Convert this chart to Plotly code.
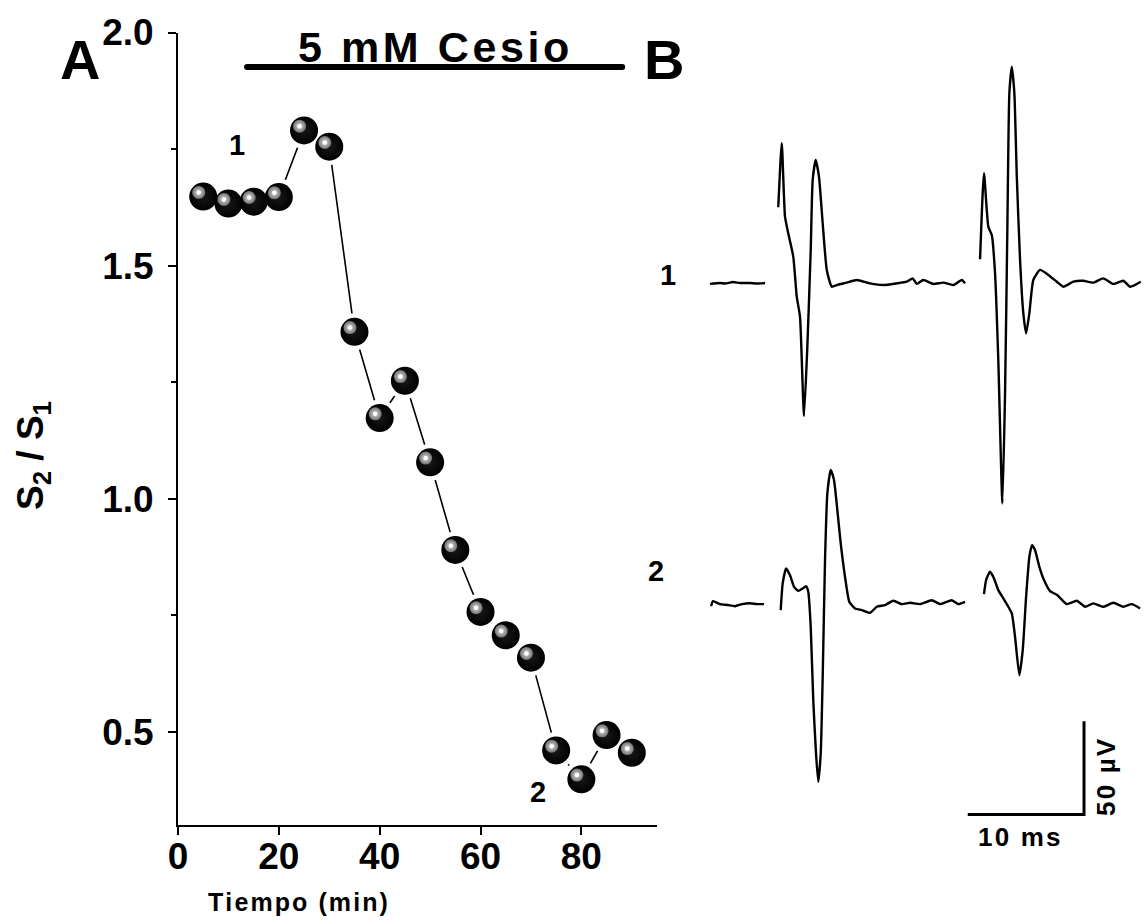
import plotly.graph_objects as go

# ---------------- Panel A data ----------------
time_min = [5, 10, 15, 20, 25, 30, 35, 40, 45, 50, 55, 60, 65, 70, 75, 80, 85, 90]
ratio_s2_s1 = [1.648, 1.633, 1.637, 1.647, 1.790, 1.755, 1.358, 1.173, 1.253,
               1.078, 0.890, 0.757, 0.707, 0.659, 0.460, 0.398, 0.493, 0.455]
x_tick_vals = [0, 20, 40, 60, 80]
y_tick_vals = [0.5, 1.0, 1.5, 2.0]
y_tick_text = ["0.5", "1.0", "1.5", "2.0"]
cesio_period = [13.7, 88.1]      # min, drug application bar
cesio_level = 1.926
point_labels = ["1", "2"]
point_label_x = [11.7, 71.4]
point_label_y = [1.752, 0.364]

# ---------------- Panel B data (ms, microvolts) ----------------
# row 1 (trace "1")
r1_pre_t = [0.0, 0.86, 1.29, 1.98, 2.58, 3.44, 4.04, 4.73]
r1_pre_v = [-0.5, 0.0, -0.3, 0.5, 0.0, 0.0, -0.3, 0.0]
r1_s1_t = [5.87, 6.17, 6.45, 6.73, 7.16, 7.46, 7.74, 8.08, 8.37, 8.66, 8.83, 9.09, 9.37,
           9.69, 10.04, 10.47, 10.90, 11.76, 12.62, 13.76, 14.90, 16.06, 16.92, 17.43,
           17.78, 18.34, 19.20, 20.06, 20.92, 21.65, 21.93]
r1_s1_v = [40.6, 74.9, 35.5, 26.6, 14.1, -7.3, -18.1, -71.3, -34.1, 17.7, 55.2, 65.9, 57.0,
           32.0, 7.0, -2.0, -1.1, 0.2, 1.6, -0.2, -1.1, -0.2, 0.7, 2.5,
           -0.5, 1.6, -0.5, 0.2, -1.1, 1.6, -0.2]
r1_s2_t = [23.22, 23.56, 23.93, 24.23, 24.51, 24.79, 25.14, 25.37, 25.57, 25.74, 25.95,
           26.17, 26.38, 26.66, 26.94, 27.18, 27.46, 27.80, 28.38, 29.09, 29.82, 30.38,
           31.24, 32.10, 32.96, 33.82, 34.68, 35.54, 36.12, 37.04]
r1_s2_v = [12.7, 58.8, 30.2, 25.7, 5.2, -41.3, -118.1, -59.1, 30.2, 101.7, 115.9,
           101.7, 57.0, 12.3, -16.2, -27.0, -16.2, 1.6, 7.0, 4.3, 0.7, -2.0,
           0.7, 1.2, 0.2, 2.5, -0.5, 1.2, -2.0, 0.7]
# row 2 (trace "2")
r2_pre_t = [0.09, 0.26, 0.86, 1.55, 2.15, 2.75, 3.44, 4.04, 4.64]
r2_pre_v = [-1.1, 1.6, 0.0, -0.5, -1.1, 0.0, 0.5, 0.0, 0.0]
r2_s1_t = [6.08, 6.25, 6.54, 6.88, 7.22, 7.59, 7.97, 8.26, 8.45, 8.66, 8.88, 9.12, 9.31,
           9.52, 9.69, 9.89, 10.09, 10.38, 10.66, 10.95, 11.24, 11.61, 11.98, 12.47,
           13.05, 13.76, 14.34, 15.05, 15.76, 16.49, 17.20, 18.06, 19.07, 19.78, 20.79,
           21.35, 21.93]
r2_s1_v = [-3.2, 11.1, 19.1, 15.5, 9.3, 7.1, 8.4, 9.6, 6.6, -12.2, -51.5, -80.5, -95.2,
           -80.0, -39.0, 23.6, 59.3, 71.8, 66.5, 50.4, 32.5, 14.6, 1.2, -2.3,
           -3.2, -4.7, -1.4, -0.5, 1.8, 0.0, 0.7, 0.0, 2.1, 0.0, 2.1,
           0.0, 1.2]
r2_s2_t = [23.56, 23.74, 24.08, 24.42, 24.79, 25.22, 25.65, 25.95, 26.23, 26.60, 26.89,
           27.18, 27.46, 27.69, 27.95, 28.32, 28.72, 29.24, 29.87, 30.68, 31.54, 32.25,
           32.96, 33.82, 34.68, 35.54, 36.26, 36.98]
r2_s2_v = [5.4, 12.9, 17.3, 13.8, 7.5, 3.1, -1.4, -5.0, -17.5, -38.1, -24.7,
           3.9, 25.4, 31.6, 28.9, 20.0, 12.9, 7.0, 4.8, 0.0, 1.8, -1.4,
           0.4, -1.4, 0.7, -1.4, 0.0, -2.3]
trace_labels = ["1", "2"]
scale_bar_ms = 10
scale_bar_uv = 50

# ---------------- layout constants ----------------
W, H = 1144, 920
A_L, A_R, A_T, A_B = 178, 657, 32.5, 825     # panel A plot area (px)
X_RANGE = [0, 95]
Y_RANGE = [0.3, 2.0]
PX_PER_MS, PX_PER_UV = 11.63, 1.867
B_T0_PX, B_BASE_PX = 710, 283                   # t=0 and row-1 baseline (px)
ROW2_OFFSET = -172                              # uV shift for row 2
SB_CORNER = (32.16, -284.7)                     # scale-bar corner (ms, uV)

FONT = "Liberation Sans, Arial, Helvetica, sans-serif"


def spaced(s, sep="\u200a"):
    return sep.join(list(s))


def px(x):
    return x / W


def py(y):
    return 1 - y / H


fig = go.Figure()

# ---- Panel A ----
fig.add_trace(go.Scatter(x=time_min, y=ratio_s2_s1, mode="lines",
                         line=dict(color="black", width=1.6), hoverinfo="skip"))
fig.add_trace(go.Scatter(x=time_min, y=ratio_s2_s1, mode="markers",
                         marker=dict(size=37, color="white", line=dict(width=0)),
                         hoverinfo="skip"))
fig.add_trace(go.Scatter(x=time_min, y=ratio_s2_s1, mode="markers",
                         marker=dict(size=28, color="black",
                                     gradient=dict(type="radial", color="#181818"),
                                     line=dict(width=0))))
# highlight (offset up-left in pixels, converted through the axis scale)
ux = (A_R - A_L) / (X_RANGE[1] - X_RANGE[0])
uy = (A_B - A_T) / (Y_RANGE[1] - Y_RANGE[0])
hx = [t - 4.5 / ux for t in time_min]
hy = [r + 4.2 / uy for r in ratio_s2_s1]
fig.add_trace(go.Scatter(x=hx, y=hy, mode="markers", hoverinfo="skip",
                         marker=dict(size=13, color="#707070",
                                     gradient=dict(type="radial", color="#e0e0e0"),
                                     line=dict(width=0))))
fig.add_trace(go.Scatter(x=hx, y=hy, mode="markers", hoverinfo="skip",
                         marker=dict(size=4.5, color="white", line=dict(width=0))))

# drug bar
fig.add_trace(go.Scatter(x=cesio_period, y=[cesio_level, cesio_level], mode="lines+markers",
                         line=dict(color="black", width=6),
                         marker=dict(size=6, color="black"), hoverinfo="skip"))

# point labels
fig.add_trace(go.Scatter(x=point_label_x, y=point_label_y, mode="text", text=point_labels,
                         textfont=dict(family=FONT, size=29, color="black", weight="bold"),
                         hoverinfo="skip"))

# ---- Panel B ----
for ts, vs, off in [(r1_pre_t, r1_pre_v, 0), (r1_s1_t, r1_s1_v, 0), (r1_s2_t, r1_s2_v, 0),
                    (r2_pre_t, r2_pre_v, ROW2_OFFSET), (r2_s1_t, r2_s1_v, ROW2_OFFSET),
                    (r2_s2_t, r2_s2_v, ROW2_OFFSET)]:
    fig.add_trace(go.Scatter(x=ts, y=[v + off for v in vs], mode="lines",
                             line=dict(color="black", width=2.4, shape="spline", smoothing=0.5),
                             xaxis="x2", yaxis="y2", hoverinfo="skip"))

cx, cy = SB_CORNER
fig.add_trace(go.Scatter(x=[cx - scale_bar_ms, cx, cx], y=[cy, cy, cy + scale_bar_uv],
                         mode="lines", line=dict(color="black", width=3),
                         xaxis="x2", yaxis="y2", hoverinfo="skip"))

t_left = (700 - B_T0_PX) / PX_PER_MS
t_right = (W - B_T0_PX) / PX_PER_MS
v_top = B_BASE_PX / PX_PER_UV
v_bot = (B_BASE_PX - H) / PX_PER_UV

axis_font = dict(family=FONT, size=37, color="black", weight="bold")

fig.update_layout(
    template="none",
    width=W, height=H, margin=dict(l=0, r=0, t=0, b=0, pad=0, autoexpand=False),
    paper_bgcolor="white", plot_bgcolor="white", showlegend=False,
    xaxis=dict(domain=[px(A_L), px(A_R)], range=X_RANGE, showline=True, linewidth=2,
               linecolor="black", ticks="outside", ticklen=8, tickwidth=2, tickcolor="black",
               tickvals=x_tick_vals, ticktext=[str(v) for v in x_tick_vals],
               tickfont=axis_font, showgrid=False, zeroline=False, anchor="y",
               ticklabelstandoff=-10, automargin=False, fixedrange=True),
    yaxis=dict(domain=[py(A_B), py(A_T)], range=Y_RANGE, showline=True, linewidth=2,
               linecolor="black", ticks="outside", ticklen=8, tickwidth=2, tickcolor="black",
               tickvals=y_tick_vals, ticktext=y_tick_text,
               tickfont=axis_font, showgrid=False, zeroline=False, anchor="x",
               minor=dict(dtick=0.25, tick0=0, ticks="outside", ticklen=5, tickwidth=2,
                          tickcolor="black", showgrid=False),
               ticklabelstandoff=7, automargin=False, fixedrange=True),
    xaxis2=dict(domain=[px(700), 1.0], range=[t_left, t_right], visible=False,
                anchor="y2", automargin=False, fixedrange=True),
    yaxis2=dict(domain=[0, 1], range=[v_bot, v_top], visible=False, anchor="x2",
                automargin=False, fixedrange=True),
)

ann = [
    dict(text="A", x=px(80), y=py(60), size=56),
    dict(text="B", x=px(664), y=py(59), size=56),
    dict(text=spaced("5 mM Cesio"), x=px(433), y=py(47), size=43),
    dict(text="S<sub>2</sub> / S<sub>1</sub>", x=px(33), y=py(456), size=37, angle=-90),
    dict(text=spaced("Tiempo (min)"), x=px(298), y=py(902), size=25),
    dict(text=trace_labels[0], x=px(668), y=py(275), size=29),
    dict(text=trace_labels[1], x=px(656), y=py(571), size=29),
    dict(text=spaced("10 ms"), x=px(1019), y=py(837), size=26),
    dict(text=spaced("50 µV"), x=px(1106), y=py(777), size=26, angle=-90),
]
for a in ann:
    fig.add_annotation(text=a["text"], x=a["x"], y=a["y"], xref="paper", yref="paper",
                       showarrow=False, xanchor="center", yanchor="middle",
                       textangle=a.get("angle", 0),
                       font=dict(family=FONT, size=a["size"], color="black",
                                 weight="bold"))

fig.write_html("out.html", config={"displayModeBar": False},
               post_script="document.body.style.margin='0';document.body.style.padding='0';")
